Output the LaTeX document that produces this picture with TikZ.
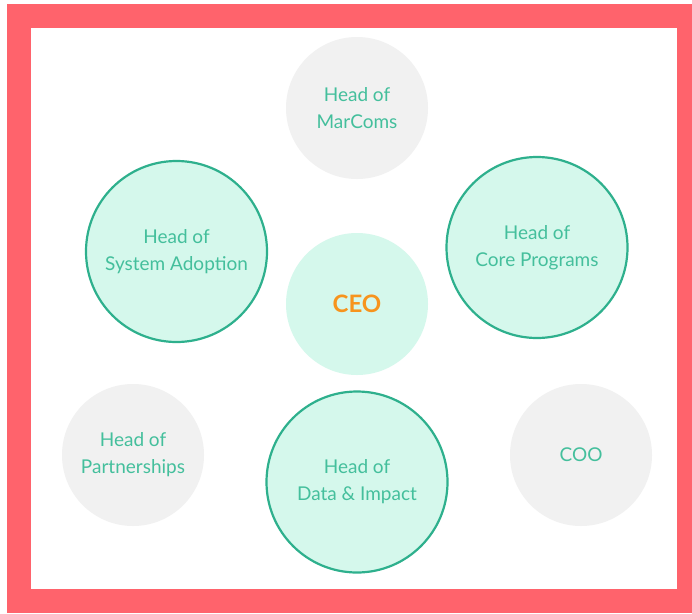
\documentclass[tikz,border=0pt]{standalone}
\usepackage{fontspec}
\setmainfont{Lato}
\definecolor{framered}{HTML}{FF636C}
\definecolor{tealtext}{HTML}{44BF9C}
\definecolor{tealline}{HTML}{2EB08D}
\definecolor{mint}{HTML}{D5F8EC}
\definecolor{greyfill}{HTML}{F1F1F1}
\definecolor{ceoorange}{HTML}{F7941D}
\begin{document}
\begin{tikzpicture}[x=1pt,y=-1pt,
  greycircle/.style={circle,fill=greyfill,minimum size=142pt,inner sep=0pt,
    text=tealtext,font=\fontsize{19}{27}\selectfont,align=center},
  tealcircle/.style={circle,fill=mint,draw=tealline,line width=2.2pt,minimum size=181pt,inner sep=0pt,
    text=tealtext,font=\fontsize{19}{27}\selectfont,align=center},
  ceocircle/.style={circle,fill=mint,minimum size=142pt,inner sep=0pt,
    text=ceoorange,font=\fontsize{24}{28}\selectfont\bfseries}]
\useasboundingbox (0,0) rectangle (692,613);
\fill[white] (0,0) rectangle (692,613);
\fill[framered] (6.5,4) rectangle (692,613);
\fill[white] (30.7,27.7) rectangle (677,588.7);
\node[greycircle] (marcoms) at (357,108) {Head of\\MarComs};
\node[tealcircle] (adoption) at (176.5,251.5) {Head of\\System Adoption};
\node[tealcircle] (core) at (537,247.5) {Head of\\Core Programs};
\node[ceocircle] (ceo) at (357,304) {CEO};
\node[greycircle] (partner) at (133,455) {Head of\\Partnerships};
\node[tealcircle] (data) at (357,482) {Head of\\Data \& Impact};
\node[greycircle] (coo) at (581,455) {COO};
\end{tikzpicture}
\end{document}
